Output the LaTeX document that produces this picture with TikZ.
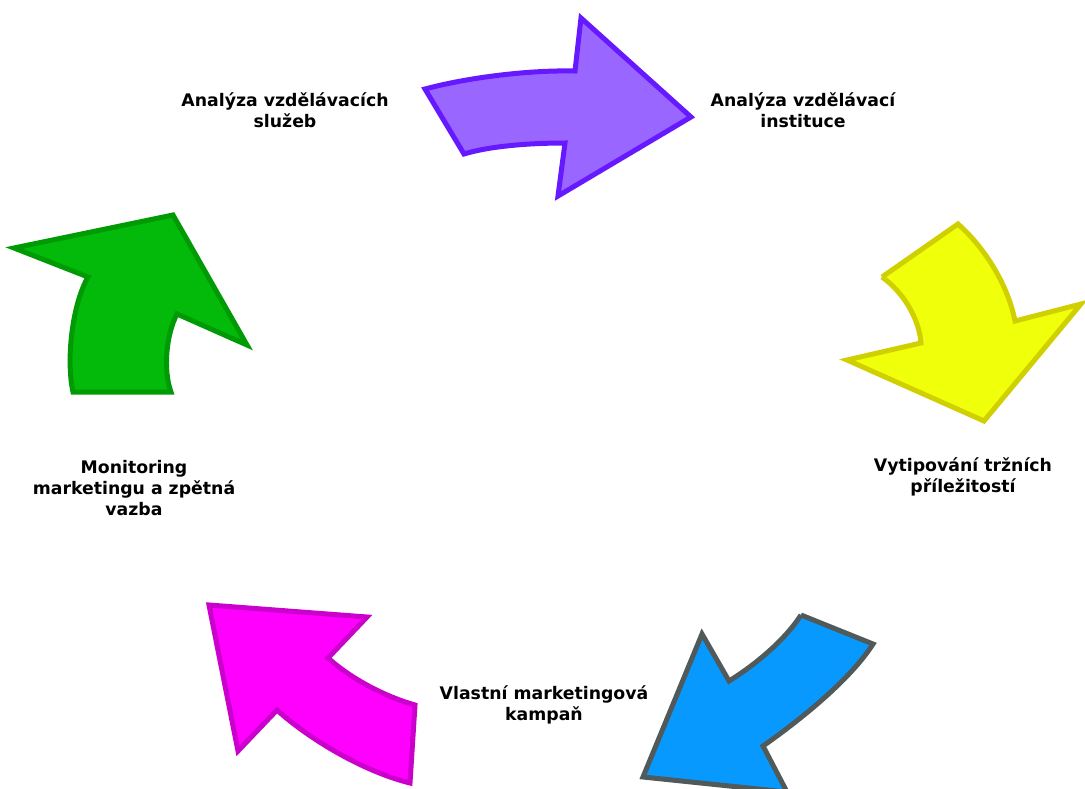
\documentclass[tikz,border=0pt]{standalone}
\usepackage{fontspec}
\setmainfont{DejaVu Sans}
\usepackage{xcolor}
\usepackage{tikz}
\definecolor{purplefill}{HTML}{9966FF}
\definecolor{purpleline}{HTML}{6619FF}
\definecolor{yellowfill}{HTML}{F0FF0A}
\definecolor{yellowline}{HTML}{D0D000}
\definecolor{bluefill}{HTML}{0899FF}
\definecolor{blueline}{HTML}{505A5A}
\definecolor{magentafill}{HTML}{FF00FF}
\definecolor{magentaline}{HTML}{CC00CC}
\definecolor{greenfill}{HTML}{03BA0A}
\definecolor{greenline}{HTML}{009A05}

\begin{document}
\begin{tikzpicture}[x=1pt,y=-1pt,
	arrowshape/.style={line width=5pt,line join=miter},
	steplabel/.style={font=\fontsize{17.3}{21}\selectfont\bfseries,align=center,text=black}]
	\useasboundingbox (0,0) rectangle (1085,789);
	% purple arrow
	\draw[arrowshape,draw=purpleline,fill=purplefill] (425,89) .. controls (470,77) and (530,70) .. (575,71) -- (581,18) -- (691,117) -- (558,196) -- (565,143) .. controls (530,143) and (490,146) .. (464,154) -- cycle;
	% yellow arrow
	\draw[arrowshape,draw=yellowline,fill=yellowfill] (882,277) -- (958,224) .. controls (985,248) and (1008,285) .. (1015,321) -- (1081,304) -- (984,421) -- (847,360) -- (921,343) .. controls (919,318) and (903,292) .. (882,277);
	% blue arrow
	\draw[arrowshape,draw=blueline,fill=bluefill] (801,615) -- (873,644) .. controls (850,680) and (800,720) .. (763,746) -- (787,792) -- (643,777) -- (702,634) -- (729,681) .. controls (755,665) and (785,640) .. (801,615);
	% magenta arrow
	\draw[arrowshape,draw=magentaline,fill=magentafill] (209,605) -- (367,617) -- (328,658) .. controls (355,682) and (390,698) .. (415,705) -- (410,783) .. controls (365,772) and (310,740) .. (277,710) -- (238,751) -- cycle;
	% green arrow
	\draw[arrowshape,draw=greenline,fill=greenfill] (14,248) -- (173,215) -- (247,345) -- (177,314) .. controls (166,335) and (163,370) .. (171,392) -- (73,392) .. controls (66,360) and (72,305) .. (88,277) -- cycle;
	% labels
	\node[steplabel] (sluzby) at (285,110) {Analýza vzdělávacích\\služeb};
	\node[steplabel] (instituce) at (803,110) {Analýza vzdělávací\\instituce};
	\node[steplabel] (prilezitosti) at (963,477) {Vytipování tržních\\příležitostí};
	\node[steplabel] (kampan) at (544,705) {Vlastní marketingová\\kampaň};
	\node[steplabel] (monitoring) at (134,488) {Monitoring\\marketingu a zpětná\\vazba};
\end{tikzpicture}
\end{document}
